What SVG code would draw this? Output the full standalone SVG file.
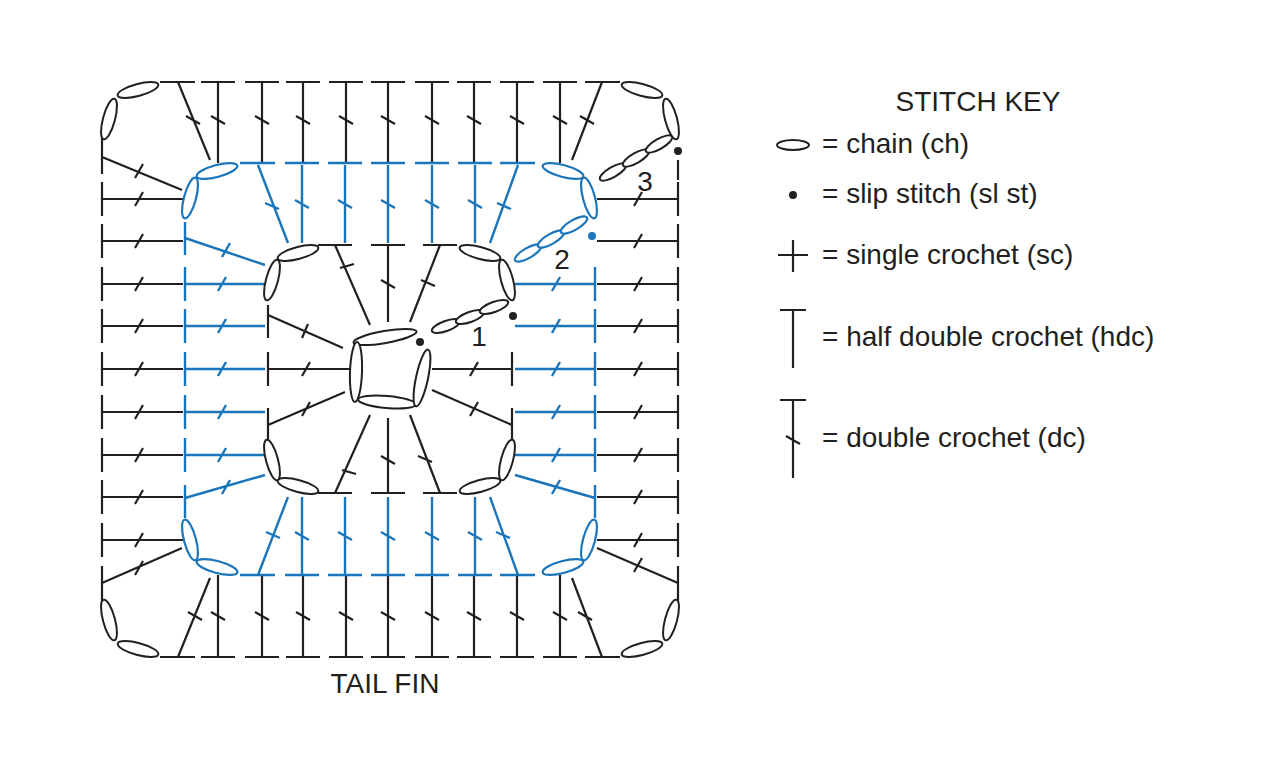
<svg xmlns="http://www.w3.org/2000/svg" width="1272" height="774" viewBox="0 0 1272 774">
<style>
.k{stroke:#231f20;stroke-width:2.2;fill:none}
.b{stroke:#1b75bb;stroke-width:2.4;fill:none}
.ok{stroke:#231f20;stroke-width:2;fill:#fff}
.ob{stroke:#1b75bb;stroke-width:2.2;fill:#fff}
text{font-family:"Liberation Sans",Arial,sans-serif;fill:#231f20}
.t{font-size:28px}
</style>
<rect width="1272" height="774" fill="#fff"/>
<g id="connectors">
<g class="k">
<path d="M218 82V163M201 82H235M211 116L225 124M262 82V163M245 82H279M255 116L269 124M303 82V163M286 82H320M296 116L310 124M346 82V163M329 82H363M339 116L353 124M388 82V163M371 82H405M381 116L395 124M432 82V163M415 82H449M425 116L439 124M474 82V163M457 82H491M467 116L481 124M517 82V163M500 82H534M510 116L524 124M560 82V163M543 82H577M553 116L567 124"/>
<path d="M178 82L210 160M160 82H195M186 116L200 124M602 82L572 160M585 82H620M580 116L594 124"/>
<path d="M218 575V657M201 657H235M211 612L225 620M262 575V657M245 657H279M255 612L269 620M303 575V657M286 657H320M296 612L310 620M346 575V657M329 657H363M339 612L353 620M388 575V657M371 657H405M381 612L395 620M432 575V657M415 657H449M425 612L439 620M474 575V657M457 657H491M467 612L481 620M517 575V657M500 657H534M510 612L524 620M560 575V657M543 657H577M553 612L567 620"/>
<path d="M178 657L210 578M160 657H195M188 612L202 620M602 657L572 578M585 657H620M578 612L592 620"/>
<path d="M102 199H183M102 182V216M135 206L143 192M102 241H183M102 224V258M135 248L143 234M102 284H183M102 267V301M135 291L143 277M102 326H183M102 309V343M135 333L143 319M102 369H183M102 352V386M135 376L143 362M102 412H183M102 395V429M135 419L143 405M102 455H183M102 438V472M135 462L143 448M102 497H183M102 480V514M135 504L143 490M102 540H183M102 523V557M135 547L143 533"/>
<path d="M102 157L182 190M102 130V174M135 178L143 164M102 583L182 548M102 566V610M135 575L143 561"/>
<path d="M597 199H678M678 182V216M634 206L642 192M597 241H678M678 224V258M634 248L642 234M597 284H678M678 267V301M634 291L642 277M597 326H678M678 309V343M634 333L642 319M597 369H678M678 352V386M634 376L642 362M597 412H678M678 395V429M634 419L642 405M597 455H678M678 438V472M634 462L642 448M597 497H678M678 480V514M634 504L642 490M597 540H678M678 523V557M634 547L642 533"/>
<path d="M678 583L597 548M678 566V610M634 572L642 558M678 160V180"/>
</g>
<g class="b">
<path d="M302 165V243M285 163H319M295 200L309 208M345 165V243M328 163H362M338 200L352 208M388 165V243M371 163H405M381 200L395 208M432 165V243M415 163H449M425 200L439 208M475 165V243M458 163H492M468 200L482 208"/>
<path d="M258 165L288 243M240 163H275M265 203L279 209M518 165L490 243M500 163H535M497 203L511 209"/>
<path d="M302 497V575M285 575H319M295 532L309 540M345 497V575M328 575H362M338 532L352 540M388 497V575M371 575H405M381 532L395 540M432 497V575M415 575H449M425 532L439 540M475 497V575M458 575H492M468 532L482 540"/>
<path d="M258 575L288 497M240 575H275M266 532L280 538M518 575L490 497M500 575H535M496 532L510 538"/>
<path d="M185 284H265M185 267V301M218 291L226 277M185 326H265M185 309V343M218 333L226 319M185 369H265M185 352V386M218 376L226 362M185 412H265M185 395V429M218 419L226 405M185 455H265M185 438V472M218 462L226 448"/>
<path d="M185 238L265 265M185 222V255M222 257L230 243M185 498L265 475M185 485V518M222 494L230 480"/>
<path d="M515 284H595M595 267V301M552 291L560 277M515 326H595M595 309V343M552 333L560 319M515 369H595M595 352V386M552 376L560 362M515 412H595M595 395V429M552 419L560 405M515 455H595M595 438V472M552 462L560 448"/>
<path d="M595 498L515 475M595 485V518M552 494L560 480"/>
</g>
<g class="k">
<path d="M335 245L370 325M318 245H352M340 268L354 264M388 245V322M371 245H405M381 280L395 288M440 245L410 322M423 245H457M421 280L435 286"/>
<path d="M335 493L370 415M318 493H352M342 470L356 474M388 493V418M371 493H405M381 456L395 464M440 493L410 415M423 493H457M418 456L432 462"/>
<path d="M268 315L343 348M268 305V338M302 338L308 324M268 369H350M268 352V386M302 376L310 362M268 425L345 392M268 408V442M302 416L310 402"/>
<path d="M512 369H432M512 352V386M470 376L478 362M512 425L432 390M512 408V442M470 416L478 402"/>
</g>
</g>
<g id="corners">
<ellipse class="ok" cx="138" cy="90" rx="21" ry="6" transform="rotate(-15 138 90)"/>
<ellipse class="ok" cx="109" cy="119" rx="21" ry="6" transform="rotate(-75 109 119)"/>
<ellipse class="ok" cx="642" cy="90" rx="21" ry="6" transform="rotate(15 642 90)"/>
<ellipse class="ok" cx="671" cy="119" rx="21" ry="6" transform="rotate(75 671 119)"/>
<ellipse class="ok" cx="138" cy="649" rx="21" ry="6" transform="rotate(15 138 649)"/>
<ellipse class="ok" cx="109" cy="620" rx="21" ry="6" transform="rotate(75 109 620)"/>
<ellipse class="ok" cx="642" cy="649" rx="21" ry="6" transform="rotate(-15 642 649)"/>
<ellipse class="ok" cx="671" cy="620" rx="21" ry="6" transform="rotate(-75 671 620)"/>
<ellipse class="ob" cx="217" cy="171" rx="21" ry="6" transform="rotate(-15 217 171)"/>
<ellipse class="ob" cx="190" cy="198" rx="21" ry="6" transform="rotate(-75 190 198)"/>
<ellipse class="ob" cx="563" cy="171" rx="21" ry="6" transform="rotate(15 563 171)"/>
<ellipse class="ob" cx="589" cy="198" rx="21" ry="6" transform="rotate(75 589 198)"/>
<ellipse class="ob" cx="217" cy="567" rx="21" ry="6" transform="rotate(15 217 567)"/>
<ellipse class="ob" cx="190" cy="540" rx="21" ry="6" transform="rotate(75 190 540)"/>
<ellipse class="ob" cx="563" cy="567" rx="21" ry="6" transform="rotate(-15 563 567)"/>
<ellipse class="ob" cx="589" cy="540" rx="21" ry="6" transform="rotate(-75 589 540)"/>
<ellipse class="ok" cx="298" cy="253" rx="21" ry="6" transform="rotate(-15 298 253)"/>
<ellipse class="ok" cx="272" cy="280" rx="21" ry="6" transform="rotate(-75 272 280)"/>
<ellipse class="ok" cx="480" cy="253" rx="21" ry="6" transform="rotate(15 480 253)"/>
<ellipse class="ok" cx="507" cy="280" rx="21" ry="6" transform="rotate(75 507 280)"/>
<ellipse class="ok" cx="298" cy="486" rx="21" ry="6" transform="rotate(15 298 486)"/>
<ellipse class="ok" cx="272" cy="460" rx="21" ry="6" transform="rotate(75 272 460)"/>
<ellipse class="ok" cx="480" cy="486" rx="21" ry="6" transform="rotate(-15 480 486)"/>
<ellipse class="ok" cx="507" cy="460" rx="21" ry="6" transform="rotate(-75 507 460)"/>
</g>
<g id="center-ring">
<ellipse class="ok" cx="385" cy="337" rx="32" ry="6" transform="rotate(-10 385 337)"/>
<ellipse class="ok" cx="356" cy="372" rx="30" ry="6" transform="rotate(-88 356 372)"/>
<ellipse class="ok" cx="387" cy="402" rx="29" ry="6" transform="rotate(5 387 402)"/>
<ellipse class="ok" cx="422" cy="378" rx="29" ry="6" transform="rotate(-78 422 378)"/>
</g>
<g id="start-chains">
<ellipse class="ok" cx="446" cy="326" rx="15" ry="5" transform="rotate(-20 446 326)"/>
<ellipse class="ok" cx="470" cy="317" rx="15" ry="5" transform="rotate(-20 470 317)"/>
<ellipse class="ok" cx="494" cy="307" rx="15" ry="5" transform="rotate(-20 494 307)"/>
<ellipse class="ob" cx="528" cy="253" rx="15" ry="5" transform="rotate(-30 528 253)"/>
<ellipse class="ob" cx="551" cy="239" rx="15" ry="5" transform="rotate(-30 551 239)"/>
<ellipse class="ob" cx="574" cy="225" rx="15" ry="5" transform="rotate(-30 574 225)"/>
<ellipse class="ok" cx="613" cy="172" rx="15" ry="5" transform="rotate(-30 613 172)"/>
<ellipse class="ok" cx="636" cy="158" rx="15" ry="5" transform="rotate(-30 636 158)"/>
<ellipse class="ok" cx="659" cy="144" rx="15" ry="5" transform="rotate(-30 659 144)"/>
<circle cx="420" cy="342" r="4" fill="#231f20"/>
<circle cx="513" cy="316" r="4" fill="#231f20"/>
<circle cx="592" cy="236" r="4" fill="#1b75bb"/>
<circle cx="678" cy="151" r="4" fill="#231f20"/>
<text x="479" y="346" class="t" text-anchor="middle">1</text>
<text x="562" y="269" class="t" text-anchor="middle">2</text>
<text x="645" y="191" class="t" text-anchor="middle">3</text>
</g>
<g id="key">
<text x="978" y="111" class="t" text-anchor="middle">STITCH KEY</text>
<ellipse class="ok" cx="793" cy="145" rx="16" ry="5"/>
<text x="822" y="153" class="t">= chain (ch)</text>
<circle cx="793" cy="195" r="4" fill="#231f20"/>
<text x="822" y="203" class="t">= slip stitch (sl st)</text>
<path class="k" d="M793 240V272M778 255H808"/>
<text x="822" y="264" class="t">= single crochet (sc)</text>
<path class="k" d="M793 310V368M780 310H806"/>
<text x="822" y="346" class="t">= half double crochet (hdc)</text>
<path class="k" d="M793 400V478M780 400H806M786 436L800 444"/>
<text x="822" y="447" class="t">= double crochet (dc)</text>
</g>
<text x="385" y="693" class="t" text-anchor="middle">TAIL FIN</text>
</svg>
